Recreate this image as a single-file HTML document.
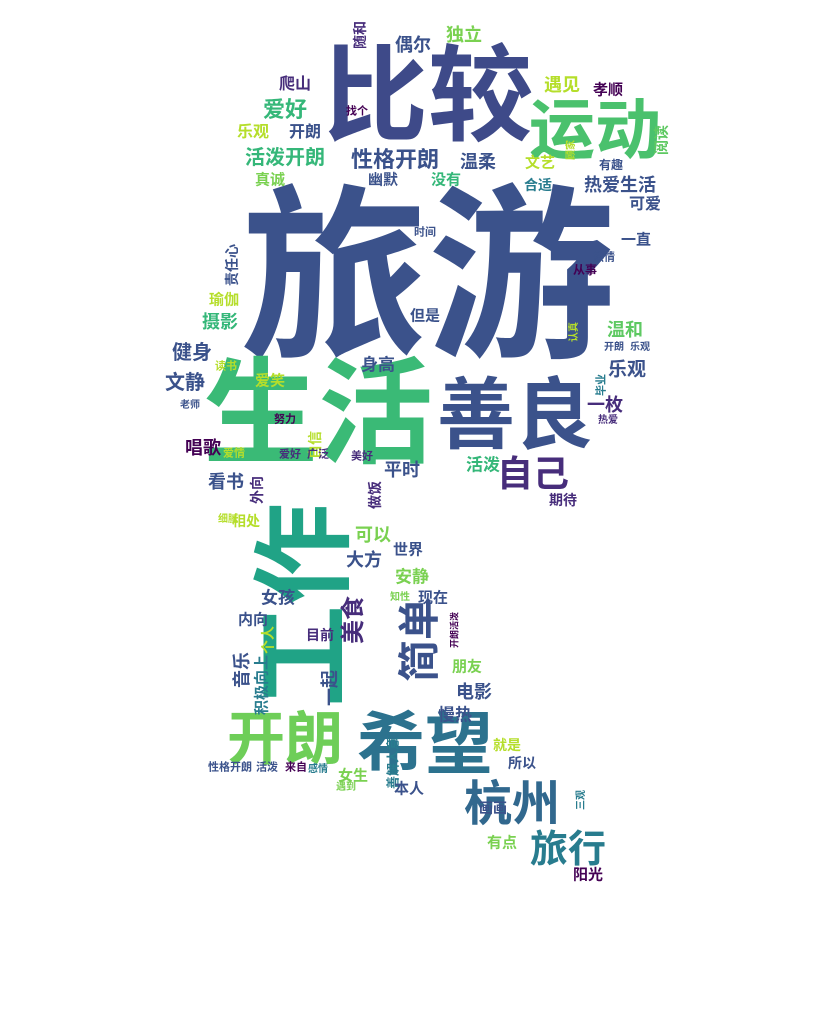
<!DOCTYPE html>
<html><head><meta charset="utf-8">
<style>
html,body{margin:0;padding:0;background:#fff;}
#cloud{position:relative;width:823px;height:1024px;overflow:hidden;background:#fff;}
#cloud span{position:absolute;white-space:nowrap;line-height:1;font-weight:bold;
 font-family:"Liberation Sans","Noto Sans CJK SC","WenQuanYi Zen Hei",sans-serif;}
</style></head>
<body>
<div id="cloud"></div>
<script>
// word cloud data
const words = ["旅游","比较","运动","生活","善良","自己","工作","开朗","希望","杭州","旅行","简单","美食",
"随和","偶尔","独立","爬山","爱好","遇见","孝顺","找个","乐观","开朗","活泼开朗","性格开朗","温柔","文艺","阅读","顾家","有趣",
"真诚","幽默","没有","合适","热爱生活","可爱","时间","一直","热情","责任心","从事","瑜伽","摄影","但是","认真","温和","开朗","乐观",
"健身","身高","乐观","文静","读书","爱笑","老师","毕业","一枚","热爱","努力","唱歌","爱情","自信","爱好","广泛","美好","活泼",
"看书","外向","平时","做饭","期待","相处","细腻","可以","大方","世界","安静","女孩","知性","现在","内向","个人","目前","开朗活泼",
"朋友","音乐","积极向上","一起","电影","慢热","就是","所以","善解人意","性格开朗","活泼","来自","感情","女生","遇到","本人","画画","三观","有点","阳光"];
const sizes = [187,105,66,115,78,36,102,58,68,48,38,42,24,
14,18,18,16,22,18,15,11,16,16,20,22,18,15,15,10,12,
15,15,15,14,18,16,11,15,11,14,12,15,18,15,10,18,10,10,
20,17,19,20,11,15,10,11,18,10,11,18,11,14,11,11,11,17,
18,14,18,14,14,14,10,18,18,15,17,17,10,15,15,14,14,9,
15,18,15,18,18,17,14,14,13,11,11,11,10,15,10,15,14,10,15,15];
const colors = ["#3b528b","#3e4a89","#4ac16d","#3aba76","#3b528b","#472d7b","#20a386","#6ece58","#2c728e","#31688e","#287c8e","#3b528b","#472d7b",
"#472d7b","#3b528b","#7ad151","#472d7b","#35b779","#b5de2b","#440154","#440154","#b5de2b","#3b528b","#35b779","#3b528b","#3b528b","#b5de2b","#5ec962","#b5de2b","#3b528b",
"#7ad151","#3b528b","#35b779","#287c8e","#3b528b","#3b528b","#3b528b","#3b528b","#3b528b","#3b528b","#440154","#b5de2b","#35b779","#3b528b","#b5de2b","#5ec962","#3b528b","#3b528b",
"#3b528b","#3b528b","#3b528b","#3b528b","#b5de2b","#b5de2b","#3b528b","#287c8e","#472d7b","#472d7b","#440154","#440154","#b5de2b","#b5de2b","#472d7b","#472d7b","#472d7b","#35b779",
"#3b528b","#472d7b","#3b528b","#472d7b","#472d7b","#b5de2b","#b5de2b","#7ad151","#3b528b","#3b528b","#7ad151","#3b528b","#7ad151","#3b528b","#3b528b","#b5de2b","#472d7b","#440154",
"#7ad151","#3b528b","#287c8e","#3b528b","#3b528b","#3b528b","#b5de2b","#3b528b","#287c8e","#3b528b","#3b528b","#440154","#287c8e","#7ad151","#7ad151","#3b528b","#3b528b","#287c8e","#7ad151","#440154"];
// layout: centre x, centre y, vertical flag
const layoutX = [428,428,595,318,515,533,305,285,425,512,568,420,354,
360,413,464,295,285,562,608,357,253,305,285,395,478,540,662,572,611,
270,383,446,538,620,645,425,636,604,232,585,224,220,425,575,625,614,640,
192,378,627,185,226,270,190,602,605,608,285,203,234,315,290,318,362,483,
226,257,402,375,563,246,228,373,364,408,412,278,400,433,253,268,320,455,
467,242,262,330,474,455,507,522,393,230,267,296,318,353,346,409,493,582,502,588];
const layoutY = [278,97,130,415,415,474,605,740,745,805,850,640,620,
35,45,35,85,110,85,90,112,133,133,158,160,162,163,140,150,165,
180,180,180,185,185,205,233,240,258,265,270,300,322,316,332,330,348,348,
353,365,370,383,367,381,406,385,405,421,420,448,454,445,455,455,457,465,
482,490,470,495,500,521,520,535,560,550,577,598,598,598,620,640,635,630,
667,670,685,688,692,715,745,763,763,768,768,768,770,776,788,789,808,800,843,875];
const vertical = [0,0,0,0,0,0,1,0,0,0,0,1,1,
1,0,0,0,0,0,0,0,0,0,0,0,0,0,1,1,0,
0,0,0,0,0,0,0,0,0,1,0,0,0,0,1,0,0,0,
0,0,0,0,0,0,0,1,0,0,0,0,0,1,0,0,0,0,
0,1,0,1,0,0,0,0,0,0,0,0,0,0,0,1,0,1,
0,1,1,1,0,0,0,0,1,0,0,0,0,0,0,0,0,1,0,0];

const cloud = document.getElementById('cloud');
words.forEach((w,i)=>{
  const s = document.createElement('span');
  s.textContent = w;
  
  
  s.style.fontSize = sizes[i] + 'px';
  s.style.color = colors[i];
  s.style.left = layoutX[i] + 'px';
  s.style.top = layoutY[i] + 'px';
  s.style.transform = 'translate(-50%,-50%)' + (vertical[i] ? ' rotate(-90deg)' : '');
  cloud.appendChild(s);
});
</script>
</body></html>
